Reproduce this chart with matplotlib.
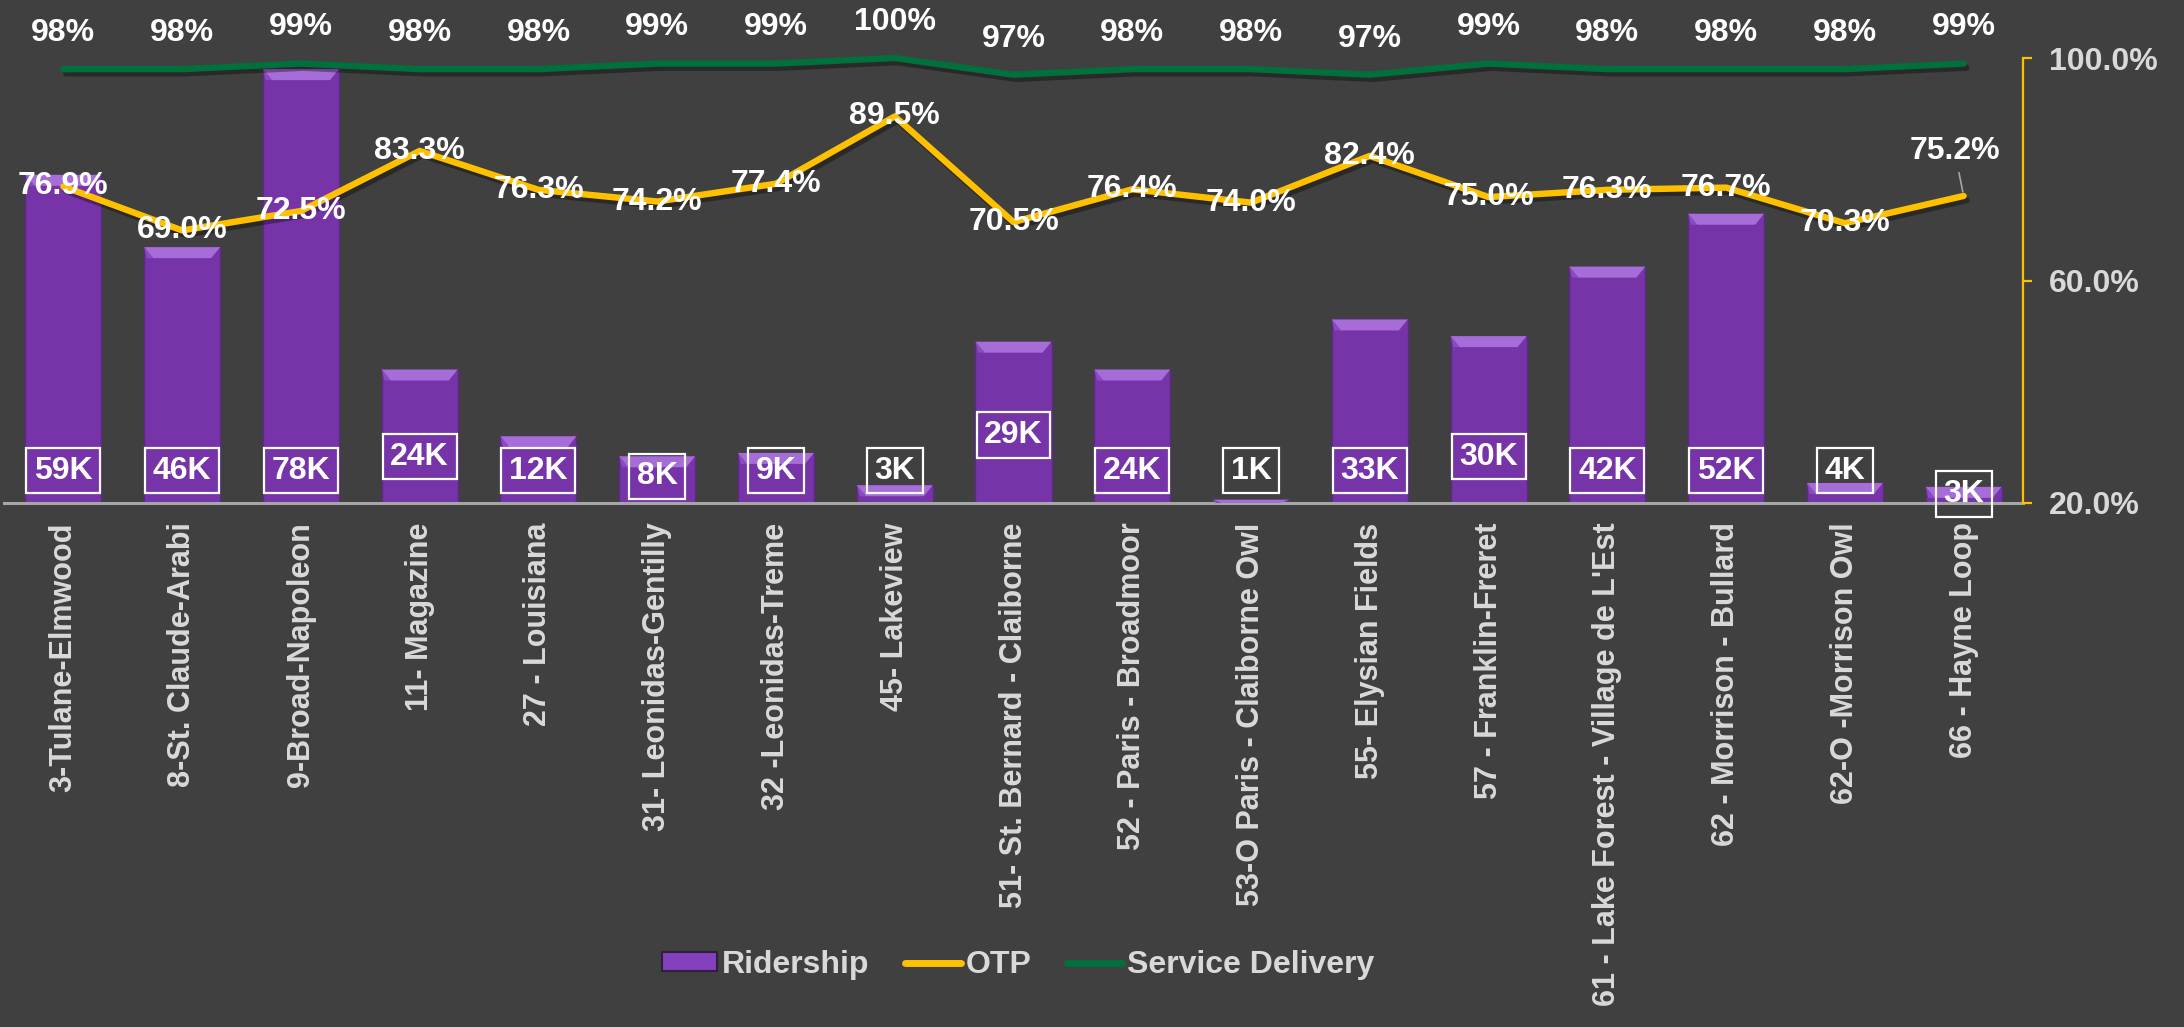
import matplotlib
matplotlib.use("Agg")
import matplotlib.pyplot as plt
from matplotlib.patches import Polygon, Rectangle
from matplotlib.lines import Line2D
import matplotlib.patheffects as pe

plt.rcParams['font.family'] = ['Liberation Sans', 'DejaVu Sans']

# ---------------- data ----------------
routes = ["3-Tulane-Elmwood", "8-St. Claude-Arabi", "9-Broad-Napoleon", "11- Magazine",
          "27 - Louisiana", "31- Leonidas-Gentilly", "32 -Leonidas-Treme", "45- Lakeview",
          "51- St. Bernard - Claiborne", "52 - Paris - Broadmoor", "53-O Paris - Claiborne Owl",
          "55- Elysian Fields", "57 - Franklin-Freret", "61 - Lake Forest - Village de L'Est",
          "62 - Morrison - Bullard", "62-O -Morrison Owl", "66 - Hayne Loop"]
ridership_k = [59, 46, 78, 24, 12, 8.4, 9, 3.2, 29, 24, 0.6, 33, 30, 42.5, 52, 3.6, 2.9]
ridership_labels = ["59K", "46K", "78K", "24K", "12K", "8K", "9K", "3K", "29K", "24K", "1K",
                    "33K", "30K", "42K", "52K", "4K", "3K"]
otp = [76.9, 69.0, 72.5, 83.3, 76.3, 74.2, 77.4, 89.5, 70.5, 76.4, 74.0, 82.4, 75.0, 76.3,
       76.7, 70.3, 75.2]
service_delivery = [98, 98, 99, 98, 98, 99, 99, 100, 97, 98, 98, 97, 99, 98, 98, 98, 99]
right_ticks = [20, 60, 100]

# ---------------- style ----------------
BG = '#404040'
PURPLE = '#7634A8'
BEVEL = '#A66DD8'
OTP_C = '#FFC000'
SD_C = '#00703C'
AX_TXT = '#D9D9D9'
FS = 23

W, H = 2184, 1027
fig = plt.figure(figsize=(W / 100, H / 100), dpi=100, facecolor=BG)
ax = fig.add_axes([4 / W, (H - 503) / H, (2023 - 4) / W, (503 - 58) / H])
ax.set_facecolor(BG)
n = len(routes)
x = list(range(n))
ax.set_xlim(-0.5, n - 0.5)
ax.set_ylim(0, 80)

bar_w = 0.64
bars = ax.bar(x, ridership_k, width=bar_w, color=PURPLE, edgecolor='#5E2887',
              linewidth=1.0, zorder=2)

# bevel on top of bars
px_y = 80 / 445.0   # data units per pixel (y)
px_x = 1 / 118.8    # data units per pixel (x)
for rect in bars:
    x0 = rect.get_x()
    x1 = x0 + rect.get_width()
    top = rect.get_height()
    h = min(11 * px_y, top)
    d = 9 * px_x
    poly = Polygon([(x0, top), (x1, top), (x1 - d, top - h), (x0 + d, top - h)],
                   closed=True, facecolor=BEVEL, edgecolor='none', zorder=3)
    ax.add_patch(poly)
    side_l = Polygon([(x0, top), (x0 + d, top - h), (x0 + d * 0.3, top - h)], closed=True,
                     facecolor='#8A4BC0', edgecolor='none', zorder=3)
    ax.add_patch(side_l)

# ridership labels (boxed)
label_y = {3: 8.3, 5: 4.8, 8: 12.2, 12: 8.3, 16: 1.6}
for i, lab in enumerate(ridership_labels):
    yy = label_y.get(i, 5.8)
    ax.text(i, yy, lab, ha='center', va='center', color='white', fontsize=FS,
            fontweight='bold', zorder=5,
            bbox=dict(boxstyle='square,pad=0.24', fc='none', ec='white', lw=1.6))

for s in ['left', 'top', 'right']:
    ax.spines[s].set_visible(False)
ax.spines['bottom'].set_color('#A6A6A6')
ax.spines['bottom'].set_linewidth(2.2)
ax.set_yticks([])
ax.set_xticks(x)
ax.set_xticklabels(routes, rotation=90, fontsize=22, fontweight='bold', color=AX_TXT,
                   ha='center', va='top')
ax.tick_params(axis='x', length=0, pad=14)

# secondary axis for percentages
ax2 = ax.twinx()
ax2.set_ylim(20, 100)
ax2.set_xlim(-0.5, n - 0.5)
for s in ['left', 'top', 'bottom']:
    ax2.spines[s].set_visible(False)
ax2.spines['right'].set_color(OTP_C)
ax2.spines['right'].set_linewidth(1.6)
ax2.set_yticks(right_ticks)
ax2.set_yticklabels([f"{t:.1f}%" for t in right_ticks], fontsize=FS, fontweight='bold',
                    color=AX_TXT)
ax2.tick_params(axis='y', colors=OTP_C, length=6.5, width=1.6, direction='out', pad=12,
                labelcolor=AX_TXT)

shadow = [pe.SimpleLineShadow(offset=(2, -3), alpha=0.35, shadow_color='black'), pe.Normal()]
ax2.plot(x, service_delivery, color=SD_C, lw=4.6, solid_capstyle='round',
         solid_joinstyle='round', clip_on=False, zorder=4, path_effects=shadow)
ax2.plot(x, otp, color=OTP_C, lw=4.6, solid_capstyle='round', solid_joinstyle='round',
         clip_on=False, zorder=4, path_effects=shadow)

for i, v in enumerate(service_delivery):
    ax2.annotate(f"{v}%", (i, v), xytext=(0, 26), textcoords='offset points',
                 ha='center', va='center', color='white', fontsize=FS, fontweight='bold',
                 annotation_clip=False, zorder=6)

for i, v in enumerate(otp):
    if i == n - 1:
        ax2.annotate(f"{v:.1f}%", (i, v), xytext=(-6.5, 32.5), textcoords='offset points',
                     ha='center', va='center', color='white', fontsize=FS,
                     fontweight='bold', zorder=6, annotation_clip=False,
                     arrowprops=dict(arrowstyle='-', color='#A6A6A6', lw=1.2,
                                     shrinkA=3, shrinkB=3))
    else:
        ax2.text(i, v, f"{v:.1f}%", ha='center', va='center', color='white', fontsize=FS,
                 fontweight='bold', zorder=6)

# legend
handles = [Rectangle((0, 0), 1, 1, facecolor='#8441BD', edgecolor='#2E1F3D', lw=1.5),
           Line2D([0], [0], color=OTP_C, lw=5, solid_capstyle='round'),
           Line2D([0], [0], color=SD_C, lw=5, solid_capstyle='round')]
leg = fig.legend(handles, ["Ridership", "OTP", "Service Delivery"], loc='center',
                 bbox_to_anchor=(1018 / W, (H - 965) / H), ncol=3, frameon=False,
                 fontsize=FS, handlelength=1.75, handleheight=0.55, handletextpad=0.15,
                 columnspacing=1.1)
for t in leg.get_texts():
    t.set_color(AX_TXT)
    t.set_fontweight('bold')

fig.savefig("out.png", dpi=100, facecolor=BG)
